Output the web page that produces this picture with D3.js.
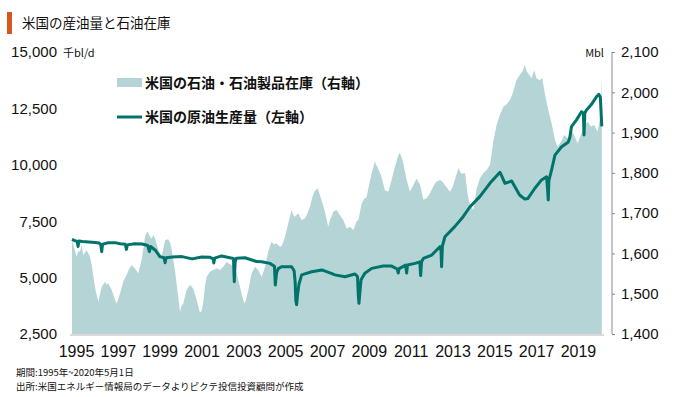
<!DOCTYPE html>
<html lang="ja">
  <head>
    <meta charset="utf-8">
    <title>米国の産油量と石油在庫</title>
    <script src="https://d3js.org/d3.v7.min.js"></script>
    <style>
      body { margin: 0; background: #fff; }
      svg text { font-family: "Noto Sans CJK JP", sans-serif; fill: #111; }
      .num { font-family: "Liberation Sans", Arial, sans-serif; }
    </style>
  </head>
  <body>
    <svg></svg>
    <script>
      // 米国の原油生産量（千bl/d, 左軸）: 年（小数）と値
      const prodYears = [1995.00, 1995.10, 1995.25, 1995.29, 1995.33, 1995.50, 1995.80, 1996.10, 1996.30, 1996.38, 1996.42, 1996.46, 1996.70,
        1997.05, 1997.30, 1997.55, 1997.60, 1997.65, 1998.00, 1998.35, 1998.62, 1998.70, 1998.76, 1999.00, 1999.20, 1999.40,
        1999.45, 1999.50, 1999.80, 2000.26, 2000.74, 2001.20, 2001.60, 2001.75, 2001.78, 2001.82, 2002.15, 2002.55, 2002.72,
        2002.76, 2002.80, 2002.86, 2003.27, 2003.60, 2003.83, 2004.07, 2004.46, 2004.68, 2004.72, 2004.78, 2004.86, 2005.02,
        2005.50, 2005.62, 2005.67, 2005.70, 2005.74, 2005.78, 2005.85, 2005.98, 2006.46, 2006.94, 2007.40, 2007.57, 2008.05,
        2008.53, 2008.65, 2008.69, 2008.72, 2008.76, 2008.82, 2009.00, 2009.33, 2009.88, 2010.28, 2010.55, 2010.60, 2010.64,
        2010.95, 2011.00, 2011.04, 2011.40, 2011.63, 2011.67, 2011.71, 2011.80, 2012.20, 2012.59, 2012.64, 2012.67, 2012.71,
        2012.83, 2013.30, 2013.70, 2014.03, 2014.50, 2014.98, 2015.22, 2015.46, 2015.55, 2015.70, 2016.02, 2016.40, 2016.65,
        2016.80, 2017.13, 2017.45, 2017.69, 2017.74, 2017.77, 2017.80, 2017.93, 2018.09, 2018.41, 2018.72, 2018.80, 2018.88,
        2019.12, 2019.36, 2019.45, 2019.48, 2019.52, 2019.60, 2019.84, 2020.08, 2020.19, 2020.26, 2020.33]
      const prodValues = [6700, 6650, 6600, 6380, 6620, 6600, 6580, 6560, 6530, 6450, 6150, 6480, 6540,
        6550, 6500, 6480, 6250, 6450, 6500, 6490, 6420, 6150, 6380, 6200, 5930, 5880,
        5660, 5880, 5910, 5930, 5830, 5910, 5900, 5830, 5650, 5860, 5960, 5880, 5850,
        4820, 5700, 5860, 5880, 5780, 5710, 5700, 5630, 5500, 4670, 5200, 5400, 5480,
        5480, 5300, 4800, 4000, 3800, 4200, 4700, 5120, 5260, 5340, 5190, 5120, 5040,
        5160, 5050, 4200, 3860, 4300, 4900, 5190, 5410, 5510, 5510, 5380, 5200, 5400,
        5550, 5200, 5560, 5630, 5700, 5090, 5700, 5850, 6000, 6370, 6300, 5480, 6400,
        6810, 7260, 7700, 8140, 8590, 9180, 9430, 9670, 9500, 9180, 9280, 8660, 8480,
        8510, 8960, 9330, 9470, 8900, 8440, 9300, 9770, 10430, 10800, 11000, 11200, 11690,
        11990, 12350, 12300, 11320, 12300, 12430, 12680, 13020, 13120, 13000, 11700]

      // 米国の石油・石油製品在庫（百万バレル, 右軸）
      const stockYears = [1995.00, 1995.10, 1995.22, 1995.30, 1995.38, 1995.46, 1995.54, 1995.70, 1995.86, 1995.95, 1996.02, 1996.14,
        1996.26, 1996.34, 1996.42, 1996.58, 1996.66, 1996.74, 1996.90, 1997.06, 1997.14, 1997.30, 1997.45, 1997.60, 1997.72,
        1997.85, 1998.00, 1998.17, 1998.33, 1998.42, 1998.49, 1998.56, 1998.62, 1998.70, 1998.78, 1998.90, 1998.97, 1999.13,
        1999.29, 1999.38, 1999.45, 1999.60, 1999.70, 1999.77, 1999.92, 2000.00, 2000.08, 2000.16, 2000.24, 2000.32, 2000.48,
        2000.64, 2000.80, 2000.96, 2001.12, 2001.20, 2001.28, 2001.36, 2001.44, 2001.60, 2001.75, 2001.92, 2002.07, 2002.23,
        2002.39, 2002.50, 2002.63, 2002.75, 2002.87, 2003.03, 2003.19, 2003.27, 2003.35, 2003.43, 2003.59, 2003.75, 2003.90,
        2004.07, 2004.23, 2004.38, 2004.54, 2004.66, 2004.78, 2004.90, 2005.02, 2005.18, 2005.34, 2005.50, 2005.58, 2005.66,
        2005.82, 2005.98, 2006.14, 2006.26, 2006.38, 2006.48, 2006.58, 2006.74, 2006.82, 2006.90, 2007.00, 2007.09, 2007.25,
        2007.33, 2007.41, 2007.49, 2007.65, 2007.81, 2007.97, 2008.13, 2008.29, 2008.45, 2008.60, 2008.69, 2008.85, 2008.97,
        2009.09, 2009.20, 2009.33, 2009.48, 2009.56, 2009.64, 2009.80, 2009.96, 2010.12, 2010.28, 2010.44, 2010.60, 2010.68,
        2010.76, 2010.84, 2011.00, 2011.16, 2011.32, 2011.48, 2011.64, 2011.80, 2011.96, 2012.11, 2012.35, 2012.47, 2012.59,
        2012.71, 2012.83, 2013.07, 2013.20, 2013.30, 2013.47, 2013.63, 2013.79, 2013.92, 2014.03, 2014.19, 2014.35, 2014.50,
        2014.66, 2014.82, 2014.98, 2015.06, 2015.14, 2015.30, 2015.46, 2015.62, 2015.78, 2015.94, 2016.09, 2016.25, 2016.41,
        2016.57, 2016.65, 2016.73, 2016.81, 2016.97, 2017.10, 2017.21, 2017.37, 2017.48, 2017.62, 2017.77, 2017.93, 2018.09,
        2018.22, 2018.38, 2018.54, 2018.70, 2018.85, 2019.01, 2019.17, 2019.33, 2019.48, 2019.65, 2019.81, 2019.97, 2020.13,
        2020.24, 2020.30, 2020.33]
      const stockValues = [1635, 1615, 1592, 1606, 1604, 1620, 1596, 1608, 1592, 1570, 1542, 1505,
        1480, 1500, 1517, 1530, 1522, 1526, 1509, 1484, 1476, 1501, 1530, 1546, 1560,
        1571, 1563, 1551, 1584, 1615, 1641, 1650, 1654, 1645, 1637, 1645, 1637, 1608,
        1592, 1615, 1633, 1635, 1625, 1608, 1559, 1525, 1493, 1455, 1470, 1476, 1509,
        1522, 1513, 1484, 1453, 1458, 1480, 1520, 1542, 1555, 1559, 1563, 1559, 1567,
        1579, 1575, 1571, 1562, 1551, 1517, 1484, 1476, 1492, 1509, 1551, 1567, 1559,
        1542, 1567, 1604, 1629, 1622, 1625, 1618, 1617, 1641, 1675, 1708, 1695, 1691,
        1700, 1683, 1687, 1700, 1716, 1738, 1753, 1762, 1750, 1737, 1720, 1704, 1666,
        1683, 1691, 1704, 1708, 1695, 1683, 1662, 1666, 1658, 1679, 1683, 1724, 1735,
        1741, 1770, 1799, 1828, 1818, 1811, 1790, 1757, 1753, 1782, 1815, 1844, 1850,
        1838, 1824, 1782, 1753, 1770, 1786, 1770, 1733, 1737, 1749, 1774, 1780, 1782,
        1778, 1770, 1753, 1765, 1782, 1811, 1797, 1800, 1745, 1720, 1708, 1762, 1786,
        1799, 1807, 1819, 1845, 1877, 1919, 1944, 1964, 1970, 1981, 2001, 2030, 2043,
        2055, 2069, 2052, 2047, 2035, 2055, 2035, 2030, 2036, 1993, 1956, 1923, 1882,
        1865, 1877, 1894, 1886, 1906, 1894, 1873, 1894, 1915, 1927, 1915, 1919, 1902,
        1935, 1990, 2039]

      const yearTicks = [1995, 1997, 1999, 2001, 2003, 2005, 2007, 2009, 2011, 2013, 2015, 2017, 2019]
      const leftTicks = [2500, 5000, 7500, 10000, 12500, 15000]
      const rightTicks = [1400, 1500, 1600, 1700, 1800, 1900, 2000, 2100]

      const width = 680, height = 397
      const lineColor = '#00736a', areaColor = '#b5d4d6'

      const svg = d3.select('svg')
        .attr('width', width)
        .attr('height', height)

      const x = d3.scaleLinear().domain([1995, 2020.34]).range([72, 602])
      const yL = d3.scaleLinear().domain([2500, 15000]).range([334, 52])
      const yR = d3.scaleLinear().domain([1400, 2100]).range([334, 52])

      // タイトル
      svg.append('rect').attr('x', 7).attr('y', 12).attr('width', 5).attr('height', 22).attr('fill', '#d4581e')
      svg.append('text').attr('x', 22).attr('y', 28).style('font-size', '13.5px').text('米国の産油量と石油在庫')

      // 在庫（面）
      const stocks = stockYears.map((t, i) => [t, stockValues[i]])
      svg.append('path')
        .datum(stocks)
        .attr('fill', areaColor)
        .attr('d', d3.area().x(d => x(d[0])).y0(yR(1400)).y1(d => yR(d[1])))

      // 下端の線
      svg.append('line')
        .attr('x1', 70).attr('x2', 604).attr('y1', 335).attr('y2', 335)
        .attr('stroke', '#d9d9d9').attr('stroke-width', 2)

      // 生産量（線）
      const prod = prodYears.map((t, i) => [t, prodValues[i]])
      svg.append('path')
        .datum(prod)
        .attr('fill', 'none')
        .attr('stroke', lineColor)
        .attr('stroke-width', 3)
        .attr('stroke-linejoin', 'round')
        .attr('d', d3.line().x(d => x(d[0])).y(d => yL(d[1])))

      // 左軸
      const left = svg.append('g')
        .attr('transform', 'translate(57,0)')
        .call(d3.axisLeft(yL).tickValues(leftTicks).tickSize(0).tickPadding(0).tickFormat(d3.format(',')))
      left.select('.domain').remove()
      left.selectAll('text').attr('class', 'num').style('font-size', '15px').attr('fill', '#111')

      // 右軸
      const right = svg.append('g')
        .attr('transform', 'translate(612,0)')
        .call(d3.axisRight(yR).tickValues(rightTicks).tickSize(3).tickPadding(6).tickFormat(d3.format(',')))
      right.select('.domain').attr('stroke', '#8c8c8c').attr('d', 'M0,52V334')
      right.selectAll('line').attr('stroke', '#8c8c8c')
      right.selectAll('text').attr('class', 'num').style('font-size', '15px').attr('fill', '#111')

      // 年ラベル
      const bottom = svg.append('g')
        .attr('transform', 'translate(4,340)')
        .call(d3.axisBottom(x).tickValues(yearTicks).tickSize(0).tickPadding(6).tickFormat(d3.format('d')))
      bottom.select('.domain').remove()
      bottom.selectAll('text').attr('class', 'num').style('font-size', '16px').attr('fill', '#111')

      // 単位
      svg.append('text').attr('x', 63).attr('y', 57).style('font-size', '11px').text('千bl/d')
      svg.append('text').attr('x', 604).attr('y', 57).attr('text-anchor', 'end').style('font-size', '11px').text('Mbl')

      // 凡例
      const legend = svg.append('g').style('font-weight', 'bold').style('font-size', '14px')
      legend.append('rect').attr('x', 117).attr('y', 78).attr('width', 25).attr('height', 9).attr('fill', areaColor)
      legend.append('text').attr('x', 145).attr('y', 88).text('米国の石油・石油製品在庫（右軸）')
      legend.append('line').attr('x1', 117).attr('x2', 142).attr('y1', 117).attr('y2', 117)
        .attr('stroke', lineColor).attr('stroke-width', 3)
      legend.append('text').attr('x', 145).attr('y', 122).text('米国の原油生産量（左軸）')

      // 注記
      const note = svg.append('g').style('font-size', '9.5px')
      note.append('text').attr('x', 16).attr('y', 376).text('期間:1995年~2020年5月1日')
      note.append('text').attr('x', 16).attr('y', 390).text('出所:米国エネルギー情報局のデータよりピクテ投信投資顧問が作成')
    </script>
  </body>
</html>
